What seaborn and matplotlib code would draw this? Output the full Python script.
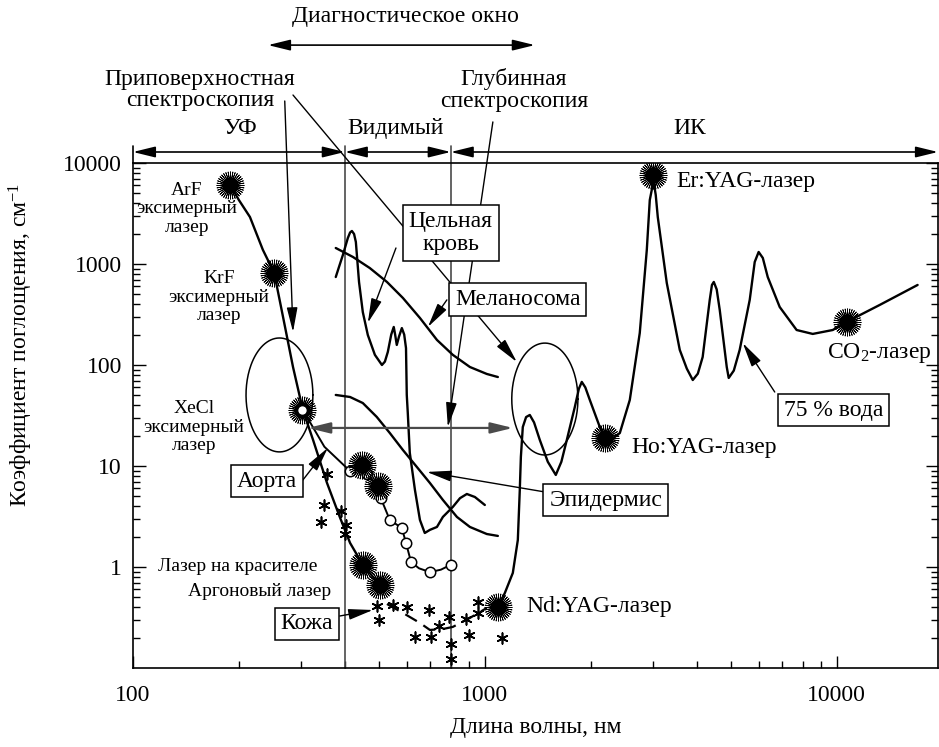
import numpy as np
import pandas as pd
import matplotlib
matplotlib.use("Agg")
import matplotlib.pyplot as plt
import seaborn as sns
from matplotlib.patches import ArrowStyle
from matplotlib.ticker import FixedLocator, LogLocator, FuncFormatter, NullFormatter

# ---------------- data: wavelength (nm) / absorption coefficient (cm^-1) ----------------
# UV-visible skin absorption through excimer / dye / argon laser lines
uv_wl = [189, 200, 215, 234, 252, 267, 285, 304, 325, 356, 387, 414, 450, 503]
uv_mu = [6050, 4300, 2920, 1380, 815, 299, 95.5, 35.8, 18.1, 6.79, 3.13, 1.73, 1.05, 0.664]

# aorta (line with open circles)
aorta_wl = [304, 350, 414, 447, 462, 497, 506, 537, 581, 597, 617, 650, 698, 750, 800]
aorta_mu = [35.8, 15.5, 8.9, 10.2, 8.33, 6.34, 4.82, 2.92, 2.43, 1.73, 1.12, 0.97, 0.89, 0.94, 1.05]
aorta_pts_wl = [414, 462, 506, 537, 581, 597, 617, 698, 800]
aorta_pts_mu = [8.9, 8.33, 4.82, 2.92, 2.43, 1.73, 1.12, 0.89, 1.05]

# skin measurements (asterisks) and trend (dashed)
skin_wl = [356, 349, 342, 390, 403, 400, 493, 500, 548, 600, 693, 632, 702, 740,
           790, 800, 800, 883, 901, 955, 955, 1117]
skin_mu = [8.33, 4.11, 2.79, 3.58, 2.61, 2.12, 0.411, 0.299, 0.420, 0.402, 0.375,
           0.203, 0.203, 0.261, 0.320, 0.173, 0.123, 0.306, 0.212, 0.450, 0.351, 0.198]
skin_fit_wl = [527, 585, 654, 698, 760, 811, 907, 1013]
skin_fit_mu = [0.43, 0.351, 0.279, 0.238, 0.243, 0.255, 0.313, 0.393]

# whole blood
blood_wl = [377, 386, 395, 408, 414, 419, 425, 430, 439, 450, 465, 487, 510, 520, 530,
            542, 551, 556, 562, 570, 581, 590, 597, 600, 604, 612, 633, 654, 675, 698,
            731, 760, 811, 850, 889, 937, 1000]
blood_mu = [743, 960, 1228, 1808, 2050, 2123, 1980, 1652, 664, 334, 198, 126, 100, 108,
            134.5, 200, 238, 200, 158, 190, 232, 200, 147, 50.5, 33.5, 13.5, 5.78,
            2.92, 2.17, 2.33, 2.49, 3.13, 3.93, 4.8, 5.28, 4.93, 4.11]

# melanosome
mel_wl = [377, 422, 471, 527, 585, 654, 731, 811, 907, 1013, 1089]
mel_mu = [1440, 1173, 912, 664, 461, 292, 177, 126, 95.5, 81.5, 76]

# epidermis
epi_wl = [377, 414, 450, 493, 537, 585, 641, 698, 760, 833, 907, 1013, 1089]
epi_mu = [50.5, 48.2, 42, 30.6, 21.2, 14.4, 9.77, 6.79, 4.61, 3.13, 2.49, 2.12, 2.03]

# 75 % water (near and mid IR)
water_wl = [1089, 1140, 1201, 1241, 1257, 1266, 1282, 1310, 1342, 1380, 1433, 1510,
            1591, 1650, 1710, 1802, 1850, 1886, 1930, 1988, 2122, 2193, 2300, 2419,
            2582, 2756, 2886, 2943, 2981, 3000, 3030, 3060, 3101, 3289, 3581, 3750,
            3899, 4030, 4160, 4357, 4420, 4474, 4560, 4652, 4870, 4933, 5100, 5300,
            5660, 5848, 6000, 6166, 6368, 6887, 7693, 8548, 9746, 10670, 13250, 16980]
water_mu = [0.402, 0.553, 0.873, 1.85, 5.78, 12.3, 24.3, 30.5, 32.0, 27.0, 18.1,
            11.0, 8.15, 11.0, 18.1, 38.4, 58, 68, 60, 45, 24.3, 18.9, 18.5, 21.2,
            45, 207, 1376, 4300, 5405, 7610, 6000, 4820, 2918, 649, 141, 92,
            71, 82, 120, 441, 620, 664, 560, 350, 95.5, 74.4, 88, 141,
            441, 1047, 1315, 1148, 743, 375, 222, 203, 222, 267, 393, 620]

# laser lines (star markers)
laser_wl = [189, 252, 303, 450, 503, 447, 497, 1089, 2193, 3000, 10670]
laser_mu = [6050, 815, 35.8, 1.05, 0.664, 10.2, 6.34, 0.40, 18.9, 7610, 267]

# ---------------- style ----------------
sns.set_theme(style="ticks")
plt.rcParams["font.family"] = ["Liberation Serif", "DejaVu Serif"]
plt.rcParams["mathtext.fontset"] = "custom"
plt.rcParams["mathtext.rm"] = "Liberation Serif"
plt.rcParams["mathtext.it"] = "Liberation Serif:italic"
for key in ("text.color", "axes.labelcolor", "xtick.color", "ytick.color",
            "axes.edgecolor"):
    plt.rcParams[key] = "black"
BIG = 17
SMALL = 14

fig = plt.figure(figsize=(9.39, 7.47), dpi=100)
ax = fig.add_axes([0.1416, 0.1058, 0.8573, 0.6760])
ax.set_xscale("log")
ax.set_yscale("log")
ax.set_xlim(100, 19400)
ax.set_ylim(0.1, 10000)

K = "black"
LW = 1.7


def curve(wl, mu, **kw):
    df = pd.DataFrame({"wl": wl, "mu": mu})
    sns.lineplot(data=df, x="wl", y="mu", ax=ax, sort=False, estimator=None,
                 color=K, lw=kw.pop("lw", LW), zorder=kw.pop("zorder", 3), **kw)


curve(uv_wl, uv_mu)
curve(aorta_wl, aorta_mu, lw=1.4)
curve(blood_wl, blood_mu)
curve(mel_wl, mel_mu)
curve(epi_wl, epi_mu)
curve(water_wl, water_mu)
ax.plot(skin_fit_wl, skin_fit_mu, color=K, lw=1.6, linestyle=(0, (6, 3.5)),
        zorder=6)

# skin asterisks
sns.scatterplot(x=skin_wl, y=skin_mu, ax=ax, marker=(6, 2, 0), s=60,
                color=K, linewidth=1.2, edgecolor=K, zorder=5, legend=False)
# aorta open circles
ax.plot(aorta_pts_wl, aorta_pts_mu, ls="none", marker="o", ms=7.5, mfc="white",
        mec=K, mew=1.1, zorder=6)

# laser sunbursts
ax.plot(laser_wl, laser_mu, ls="none", marker=(36, 2, 0), ms=20, mec=K, mew=0.6,
        zorder=7)
ax.plot(laser_wl, laser_mu, ls="none", marker="o", ms=8, mfc=K, mec=K, zorder=8)
ax.plot([303], [35.8], ls="none", marker="o", ms=7, mfc="white", mec=K, mew=1,
        zorder=9)

# ---------------- spectral regions ----------------
GREY = "#4a4a4a"
for b in (400, 800):
    ax.plot([b, b], [0.1, 14700], color=GREY, lw=1.2, clip_on=False, zorder=2)
ax.plot([100, 100], [10000, 14700], color=K, lw=1.2, clip_on=False)

dbl = ArrowStyle("<|-|>", head_length=0.9, head_width=0.22)
one = ArrowStyle("-|>", head_length=1.0, head_width=0.22)


def arrow(xy_from, xy_to, style=one, color=K, lw=1.0, ms=15, z=4):
    ax.annotate("", xy=xy_to, xytext=xy_from, xycoords="data", textcoords="data",
                annotation_clip=False, zorder=z,
                arrowprops=dict(arrowstyle=style, color=color, lw=lw,
                                shrinkA=0, shrinkB=0, mutation_scale=ms))


for a, b in ((100, 400), (400, 800), (800, 19400)):
    arrow((a, 12850), (b, 12850), style=dbl, lw=1.2)
ax.text(201, 22200, "УФ", ha="center", va="center", fontsize=BIG)
ax.text(558, 22200, "Видимый", ha="center", va="center", fontsize=BIG)
ax.text(3821, 22200, "ИК", ha="center", va="center", fontsize=BIG)

ax.text(593, 279000, "Диагностическое окно", ha="center", va="center", fontsize=BIG)
arrow((242, 147000), (1387, 147000), style=dbl, lw=1.2)

ax.text(155, 52800, "Приповерхностная\nспектроскопия", ha="center", va="center",
        fontsize=BIG, linespacing=1.05)
ax.text(1209, 52800, "Глубинная\nспектроскопия", ha="center", va="center",
        fontsize=BIG, linespacing=1.05)

# ---------------- ellipses around spectroscopy windows ----------------
t = np.linspace(0, 2 * np.pi, 200)
for cx, cy, rx, ry in ((260.8, 50.5, 0.095, 0.564), (1481, 46, 0.094, 0.554)):
    ax.plot(10 ** (np.log10(cx) + rx * np.cos(t)), 10 ** (np.log10(cy) + ry * np.sin(t)),
            color=K, lw=1.1, zorder=3)

arrow((270, 41100), (285, 212))
arrow((285, 47100), (1233, 107))
arrow((1054, 25500), (785, 24.3))
arrow((314, 23.8), (1202, 23.8), style=dbl, color=GREY, lw=1.6)

# ---------------- boxed labels ----------------
box = dict(boxstyle="square,pad=0.25", fc="white", ec=K, lw=1.1)
ax.text(800, 2027, "Цельная\nкровь", ha="center", va="center", fontsize=BIG,
        bbox=box, zorder=10, linespacing=1.1)
ax.text(1241, 441, "Меланосома", ha="center", va="center", fontsize=BIG, bbox=box, zorder=10)
ax.text(2207, 4.6, "Эпидермис", ha="center", va="center", fontsize=BIG, bbox=box, zorder=10)
ax.text(240, 7.1, "Аорта", ha="center", va="center", fontsize=BIG, bbox=box, zorder=10)
ax.text(312, 0.273, "Кожа", ha="center", va="center", fontsize=BIG, bbox=box, zorder=10)
ax.text(9806, 35.8, "75 % вода", ha="center", va="center", fontsize=BIG, bbox=box, zorder=10)

arrow((559, 1440), (465, 261))
arrow((780, 441), (689, 238))
arrow((1481, 5.53), (684, 8.73))
arrow((304, 7.26), (358, 15.1))
arrow((387, 0.327), (481, 0.375))
arrow((6667, 54), (5408, 165))

# ---------------- laser labels ----------------
ax.text(142.4, 3508, "ArF\nэксимерный\nлазер", ha="center", va="center",
        fontsize=SMALL, linespacing=1.12)
ax.text(175.5, 471, "KrF\nэксимерный\nлазер", ha="center", va="center",
        fontsize=SMALL, linespacing=1.12)
ax.text(149, 24.3, "XeCl\nэксимерный\nлазер", ha="center", va="center",
        fontsize=SMALL, linespacing=1.12)
ax.text(199, 1.0, "Лазер на красителе", ha="center", va="center", fontsize=SMALL)
ax.text(229.5, 0.578, "Аргоновый лазер", ha="center", va="center", fontsize=SMALL)
ax.text(3512, 6490, "Er:YAG-лазер", ha="left", va="center", fontsize=BIG)
ax.text(2617, 15.1, "Ho:YAG-лазер", ha="left", va="center", fontsize=BIG)
ax.text(9367, 131.5, "CO$_2$-лазер", ha="left", va="center", fontsize=BIG)
ax.text(1316, 0.402, "Nd:YAG-лазер", ha="left", va="center", fontsize=BIG)

# ---------------- axes ----------------
ax.xaxis.set_major_locator(FixedLocator([100, 1000, 10000]))
ax.xaxis.set_minor_locator(LogLocator(base=10, subs=np.arange(2, 10)))
ax.yaxis.set_major_locator(FixedLocator([1, 10, 100, 1000, 10000]))
ax.yaxis.set_minor_locator(LogLocator(base=10, subs=np.arange(2, 10)))
fmt = FuncFormatter(lambda v, p: f"{v:g}")
ax.xaxis.set_major_formatter(fmt)
ax.yaxis.set_major_formatter(fmt)
ax.xaxis.set_minor_formatter(NullFormatter())
ax.yaxis.set_minor_formatter(NullFormatter())
ax.tick_params(which="both", direction="in", top=False, right=True,
               labelsize=BIG, color=K, labelcolor=K, width=1.0)
ax.tick_params(which="major", length=9)
ax.tick_params(which="minor", length=5)
ax.tick_params(axis="x", pad=12)
ax.tick_params(axis="y", pad=8)
for s in ax.spines.values():
    s.set_color(K)
    s.set_linewidth(1.2)
ax.set_xlabel("Длина волны, нм", fontsize=BIG, labelpad=8, color=K)
ax.set_ylabel("Коэффициент поглощения, см$^{-1}$", fontsize=BIG, color=K)
ax.yaxis.set_label_coords(-0.122, 0.64)

fig.savefig("out.png", dpi=100)
